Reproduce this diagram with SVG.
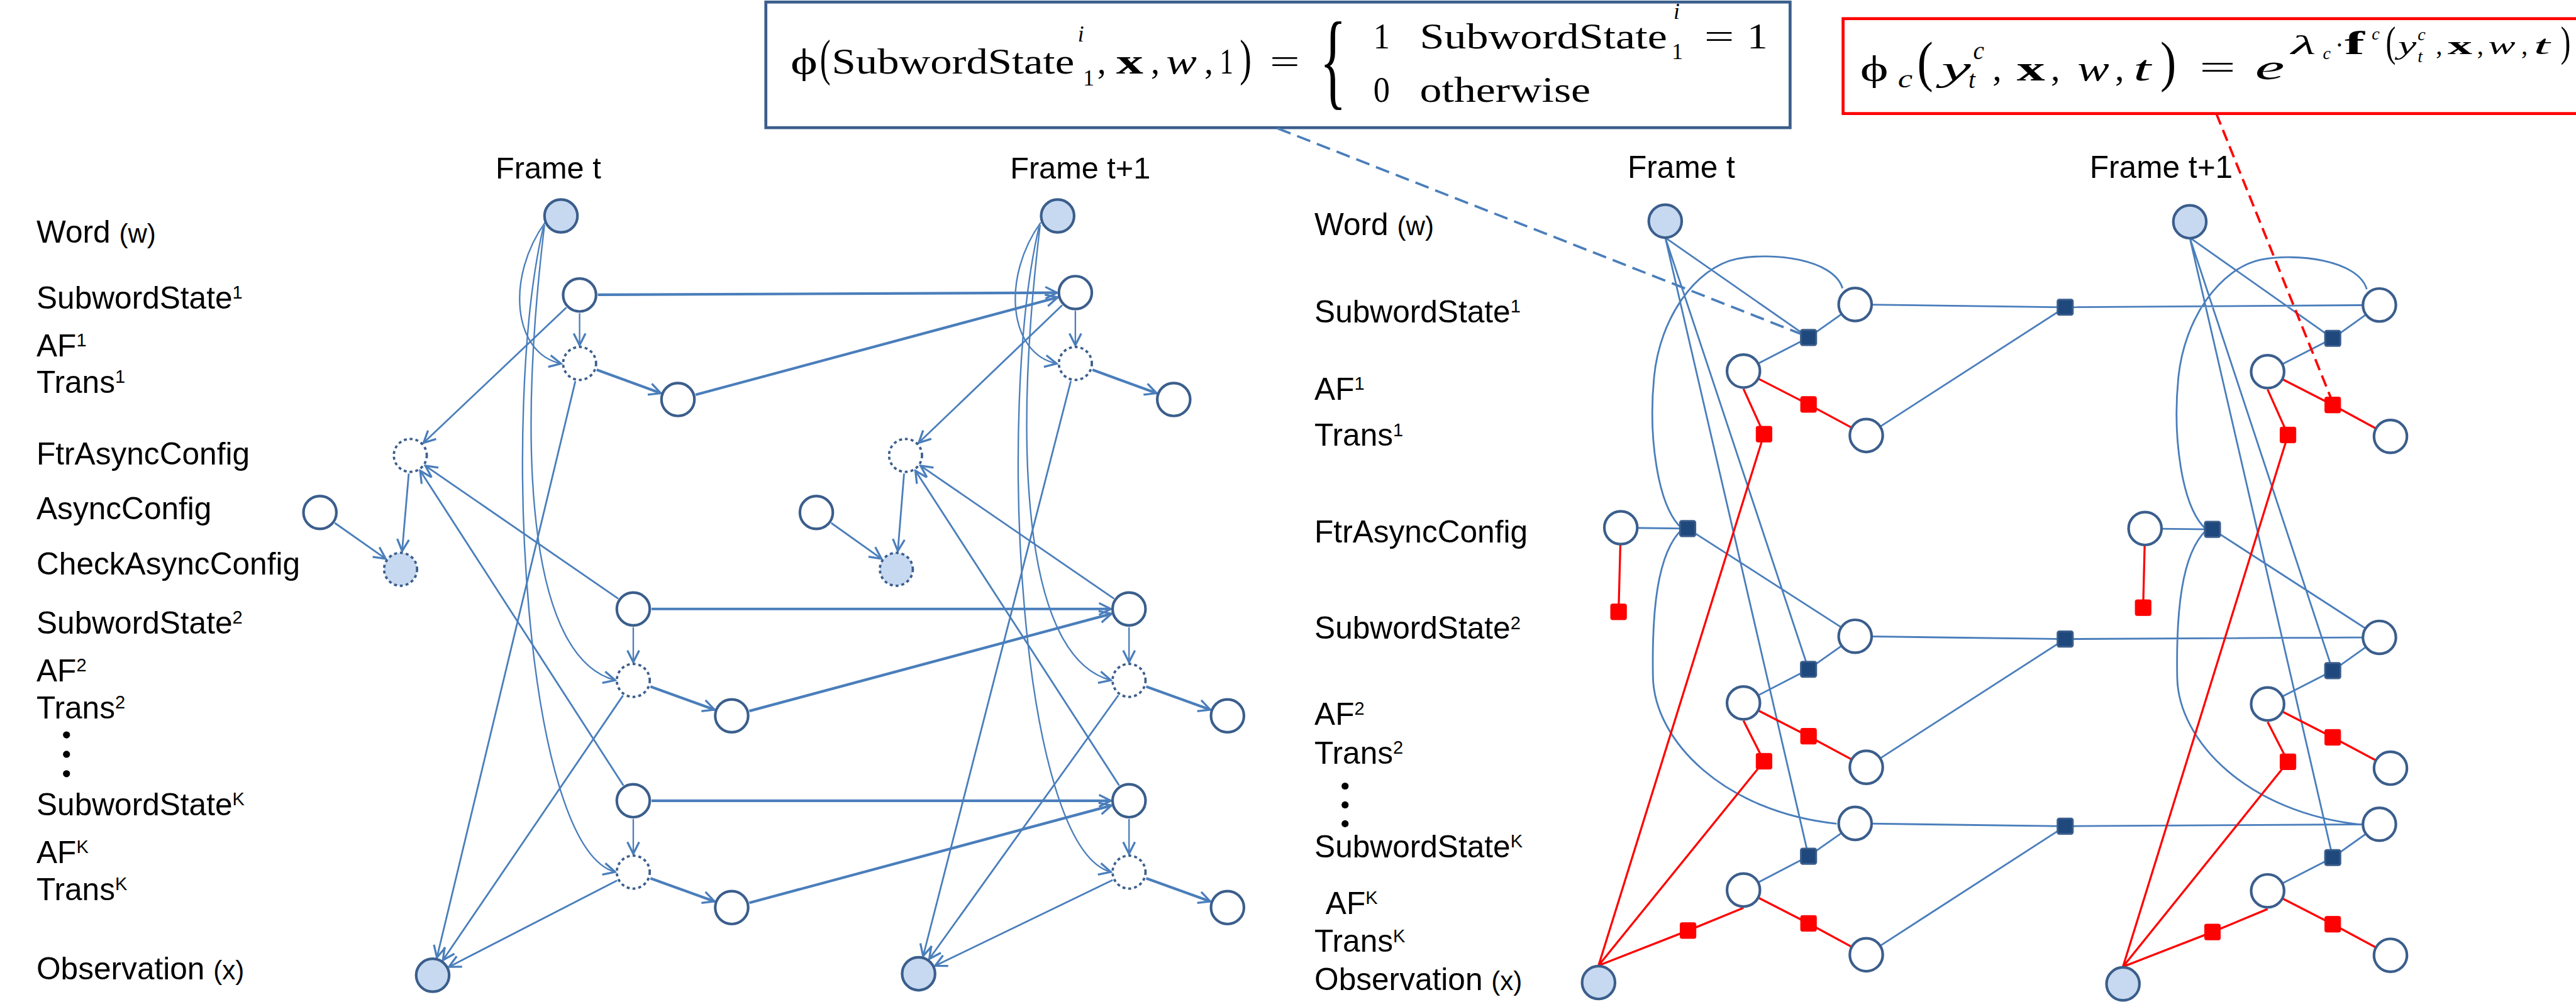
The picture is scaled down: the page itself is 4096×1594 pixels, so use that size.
<svg xmlns="http://www.w3.org/2000/svg" width="4096" height="1594" viewBox="0 0 4096 1594">
<defs>
<style>
.lbl{font-family:"Liberation Sans",Arial,sans-serif;font-size:53px;fill:#000}
.sup{font-size:31px}
.sm{font-size:45px}
.frm{font-family:"Liberation Sans",Arial,sans-serif;font-size:52px;fill:#000}
.m{font-family:"Liberation Serif","DejaVu Serif",serif;fill:#000}
.it{font-style:italic}
.bf{font-weight:bold}
.n{fill:#fff;stroke:#3B5E8C;stroke-width:4.5}
.o{fill:#C6D9F1;stroke:#3B5E8C;stroke-width:4.5}
.d{fill:#fff;stroke:#3B5E8C;stroke-width:4;stroke-dasharray:5 5}
.do{fill:#C6D9F1;stroke:#3B5E8C;stroke-width:4;stroke-dasharray:5 5}
.a{fill:none;stroke:#4A7EBB;stroke-width:3;marker-end:url(#ah)}
.a.t{stroke-width:2.5}
.a.k{stroke-width:4.5}
.u{fill:none;stroke:#4A7EBB;stroke-width:3}
.r{fill:none;stroke:#FF0000;stroke-width:3.5}
.fb{fill:#1F497D;stroke:#3B5E8C;stroke-width:3}
.fr{fill:#FF0000;stroke:#FF0000;stroke-width:1}
.dot{fill:#000}
</style>
<marker id="ah" viewBox="0 0 26 26" refX="23" refY="13" markerWidth="26" markerHeight="26" markerUnits="userSpaceOnUse" orient="auto">
<path d="M3,3 L23,13 L3,23" fill="none" stroke="#4A7EBB" stroke-width="3.5"/>
</marker>
</defs>
<rect width="4096" height="1594" fill="#fff"/>
<g transform="scale(0.936)">

<!-- potential function boxes -->
<g id="eq-subword">
<rect x="1301" y="3.5" width="1740" height="213.5" fill="#fff" stroke="#3B5E8C" stroke-width="5"/>
<text class="m" x="1343" y="125" font-size="60" textLength="46" lengthAdjust="spacingAndGlyphs">ϕ</text>
<text class="m" x="1393" y="127" font-size="85" textLength="18" lengthAdjust="spacingAndGlyphs">(</text>
<text class="m" x="1413" y="125" font-size="60" textLength="412" lengthAdjust="spacingAndGlyphs">SubwordState</text>
<text class="m it" x="1831" y="70" font-size="38">i</text>
<text class="m" x="1840" y="145" font-size="38">1</text>
<text class="m" x="1864" y="125" font-size="60">,</text>
<text class="m bf" x="1896" y="125" font-size="60" textLength="46" lengthAdjust="spacingAndGlyphs">x</text>
<text class="m" x="1955" y="125" font-size="60">,</text>
<text class="m it" x="1981" y="125" font-size="60" textLength="52" lengthAdjust="spacingAndGlyphs">w</text>
<text class="m" x="2046" y="125" font-size="60">,</text>
<text class="m" x="2072" y="125" font-size="60" textLength="23" lengthAdjust="spacingAndGlyphs">1</text>
<text class="m" x="2106" y="127" font-size="85" textLength="20" lengthAdjust="spacingAndGlyphs">)</text>
<text class="m" x="2157" y="125" font-size="60" textLength="51" lengthAdjust="spacingAndGlyphs">=</text>
<text class="m" transform="translate(2242,162) scale(0.52,1)" font-size="181">{</text>
<text class="m" x="2333" y="82" font-size="60" textLength="28" lengthAdjust="spacingAndGlyphs">1</text>
<text class="m" x="2412" y="82" font-size="60" textLength="420" lengthAdjust="spacingAndGlyphs">SubwordState</text>
<text class="m it" x="2843" y="32" font-size="38">i</text>
<text class="m" x="2840" y="100" font-size="38">1</text>
<text class="m" x="2895" y="82" font-size="60" textLength="51" lengthAdjust="spacingAndGlyphs">=</text>
<text class="m" x="2968" y="82" font-size="60" textLength="35" lengthAdjust="spacingAndGlyphs">1</text>
<text class="m" x="2333" y="173" font-size="60" textLength="28" lengthAdjust="spacingAndGlyphs">0</text>
<text class="m" x="2412" y="173" font-size="60" textLength="290" lengthAdjust="spacingAndGlyphs">otherwise</text>
</g>

<g id="eq-factor">
<rect x="3131" y="31.7" width="1300" height="161.3" fill="#fff" stroke="#FF0000" stroke-width="5"/>
<text class="m" x="3160" y="137" font-size="62" textLength="48" lengthAdjust="spacingAndGlyphs">ϕ</text>
<text class="m it" x="3224" y="148" font-size="42" textLength="25" lengthAdjust="spacingAndGlyphs">c</text>
<text class="m" x="3257" y="137" font-size="95" textLength="27" lengthAdjust="spacingAndGlyphs">(</text>
<text class="m it" x="3298" y="137" font-size="62" textLength="50" lengthAdjust="spacingAndGlyphs">y</text>
<text class="m it" x="3352" y="100" font-size="42">c</text>
<text class="m it" x="3344" y="150" font-size="42">t</text>
<text class="m" x="3385" y="137" font-size="62">,</text>
<text class="m bf" x="3426" y="137" font-size="62" textLength="48" lengthAdjust="spacingAndGlyphs">x</text>
<text class="m" x="3484" y="137" font-size="62">,</text>
<text class="m it" x="3529" y="137" font-size="62" textLength="54" lengthAdjust="spacingAndGlyphs">w</text>
<text class="m" x="3593" y="137" font-size="62">,</text>
<text class="m it" x="3624" y="137" font-size="62" textLength="30" lengthAdjust="spacingAndGlyphs">t</text>
<text class="m" x="3670" y="137" font-size="95" textLength="27" lengthAdjust="spacingAndGlyphs">)</text>
<text class="m" x="3736" y="135" font-size="62" textLength="62" lengthAdjust="spacingAndGlyphs">=</text>
<text class="m it" x="3831" y="135" font-size="60" textLength="50" lengthAdjust="spacingAndGlyphs">e</text>
<text class="m it" x="3892" y="92" font-size="44" textLength="42" lengthAdjust="spacingAndGlyphs">λ</text>
<text class="m it" x="3946" y="100" font-size="30">c</text>
<text class="m" x="3967" y="92" font-size="44">·</text>
<text class="m bf" x="3983" y="92" font-size="56" textLength="34" lengthAdjust="spacingAndGlyphs">f</text>
<text class="m it" x="4029" y="67" font-size="30">c</text>
<text class="m" x="4053" y="95" font-size="72" textLength="17" lengthAdjust="spacingAndGlyphs">(</text>
<text class="m it" x="4074" y="92" font-size="44" textLength="31" lengthAdjust="spacingAndGlyphs">y</text>
<text class="m it" x="4107" y="68" font-size="30">c</text>
<text class="m it" x="4107" y="106" font-size="30">t</text>
<text class="m" x="4138" y="92" font-size="44">,</text>
<text class="m bf" x="4158" y="92" font-size="44" textLength="42" lengthAdjust="spacingAndGlyphs">x</text>
<text class="m" x="4208" y="92" font-size="44">,</text>
<text class="m it" x="4227" y="92" font-size="44" textLength="46" lengthAdjust="spacingAndGlyphs">w</text>
<text class="m" x="4283" y="92" font-size="44">,</text>
<text class="m it" x="4304" y="92" font-size="44" textLength="28" lengthAdjust="spacingAndGlyphs">t</text>
<text class="m" x="4350" y="95" font-size="72" textLength="17" lengthAdjust="spacingAndGlyphs">)</text>
</g>

<!-- row labels, directed model -->
<g id="labels-left">
<text class="frm" x="842" y="303">Frame t</text>
<text class="frm" x="1716" y="303">Frame t+1</text>
<text class="lbl" x="62" y="412">Word <tspan class="sm">(w)</tspan></text>
<text class="lbl" x="62" y="525">SubwordState<tspan class="sup" dy="-17">1</tspan></text>
<text class="lbl" x="62" y="606">AF<tspan class="sup" dy="-17">1</tspan></text>
<text class="lbl" x="62" y="668">Trans<tspan class="sup" dy="-17">1</tspan></text>
<text class="lbl" x="62" y="789">FtrAsyncConfig</text>
<text class="lbl" x="62" y="883">AsyncConfig</text>
<text class="lbl" x="62" y="976">CheckAsyncConfig</text>
<text class="lbl" x="62" y="1077">SubwordState<tspan class="sup" dy="-17">2</tspan></text>
<text class="lbl" x="62" y="1158">AF<tspan class="sup" dy="-17">2</tspan></text>
<text class="lbl" x="62" y="1221">Trans<tspan class="sup" dy="-17">2</tspan></text>
<circle class="dot" cx="113" cy="1249" r="6"/>
<circle class="dot" cx="113" cy="1282" r="6"/>
<circle class="dot" cx="113" cy="1315" r="6"/>
<text class="lbl" x="62" y="1386">SubwordState<tspan class="sup" dy="-17">K</tspan></text>
<text class="lbl" x="62" y="1467">AF<tspan class="sup" dy="-17">K</tspan></text>
<text class="lbl" x="62" y="1530">Trans<tspan class="sup" dy="-17">K</tspan></text>
<text class="lbl" x="62" y="1664">Observation <tspan class="sm">(x)</tspan></text>
</g>

<!-- row labels, factor graph -->
<g id="labels-right">
<text class="lbl" x="2765" y="302" font-size="51">Frame t</text>
<text class="lbl" x="3550" y="302" font-size="51">Frame t+1</text>
<text class="lbl" x="2233" y="400">Word <tspan class="sm">(w)</tspan></text>
<text class="lbl" x="2233" y="548">SubwordState<tspan class="sup" dy="-17">1</tspan></text>
<text class="lbl" x="2233" y="679">AF<tspan class="sup" dy="-17">1</tspan></text>
<text class="lbl" x="2233" y="758">Trans<tspan class="sup" dy="-17">1</tspan></text>
<text class="lbl" x="2233" y="922">FtrAsyncConfig</text>
<text class="lbl" x="2233" y="1086">SubwordState<tspan class="sup" dy="-17">2</tspan></text>
<text class="lbl" x="2233" y="1232">AF<tspan class="sup" dy="-17">2</tspan></text>
<text class="lbl" x="2233" y="1298">Trans<tspan class="sup" dy="-17">2</tspan></text>
<circle class="dot" cx="2285" cy="1336" r="6"/>
<circle class="dot" cx="2285" cy="1368" r="6"/>
<circle class="dot" cx="2285" cy="1400" r="6"/>
<text class="lbl" x="2233" y="1457">SubwordState<tspan class="sup" dy="-17">K</tspan></text>
<text class="lbl" x="2252" y="1553">AF<tspan class="sup" dy="-17">K</tspan></text>
<text class="lbl" x="2233" y="1618">Trans<tspan class="sup" dy="-17">K</tspan></text>
<text class="lbl" x="2233" y="1683">Observation <tspan class="sm">(x)</tspan></text>
</g>

<!-- connectors -->
<g id="connectors">
<!-- directed model, frame t -->
<path class="a t" d="M926,378 C860,470 870,600 953,618"/>
<path class="a t" d="M925,382 C875,800 905,1120 1045,1156"/>
<path class="a t" d="M923,386 C850,700 890,1440 1045,1482"/>
<path class="a k" d="M1015.6,501 L1795.8,497.5"/>
<path class="a k" d="M1181.6,670.9 L1796.9,505.4"/>
<path class="a t" d="M984.6,532.4 L984.6,586.7"/>
<path class="a k" d="M1013.7,628.4 L1122.6,668.3"/>
<path class="a" d="M962.1,522.7 L719.5,752.7" stroke-width="3.5"/>
<path class="a" d="M1050.3,1017.4 L722.5,791.6" stroke-width="3.5"/>
<path class="a" d="M1059,1334.9 L713.8,800"/>
<path class="a" d="M694.4,804.9 L683.1,936.6"/>
<path class="a" d="M568.8,888.9 L655.2,949.7" stroke-width="3.5"/>
<path class="a" d="M977.4,647.8 L742.2,1627.4"/>
<path class="a" d="M1058.4,1182 L752.4,1631.9"/>
<path class="a" d="M1048.2,1496.4 L762.6,1643.3"/>
<path class="a k" d="M1106.8,1035 L1887,1035"/>
<path class="a k" d="M1272.9,1208.5 L1888.1,1043.1"/>
<path class="a t" d="M1075.8,1066 L1075.8,1125.4"/>
<path class="a k" d="M1105,1166.9 L1213.8,1206.1"/>
<path class="a k" d="M1106.8,1360.9 L1887,1360.9"/>
<path class="a k" d="M1272.9,1534.4 L1888.1,1369"/>
<path class="a t" d="M1075.8,1391.9 L1075.8,1451.2"/>
<path class="a k" d="M1105,1492.7 L1213.8,1532"/>
<!-- directed model, frame t+1 -->
<path class="a t" d="M1768,378 C1702,470 1712,600 1795,618"/>
<path class="a t" d="M1767,382 C1717,800 1747,1120 1887,1156"/>
<path class="a t" d="M1765,386 C1692,700 1732,1440 1887,1482"/>
<path class="a t" d="M1826.8,528.3 L1826.8,586.7"/>
<path class="a k" d="M1855.9,628.4 L1964.8,668.3"/>
<path class="a" d="M1804.4,518.8 L1560.7,752.5" stroke-width="3.5"/>
<path class="a" d="M1892.5,1017.4 L1563.8,791.6" stroke-width="3.5"/>
<path class="a" d="M1901.2,1334.9 L1555.1,800"/>
<path class="a" d="M1535.8,804.9 L1525.2,936.6"/>
<path class="a" d="M1412.1,888.9 L1497.4,949.6" stroke-width="3.5"/>
<path class="a" d="M1819.1,647.7 L1568.2,1625"/>
<path class="a" d="M1899.9,1181.6 L1578.6,1629.8"/>
<path class="a" d="M1890.1,1495.7 L1588.4,1641.5"/>
<path class="a t" d="M1918,1066 L1918,1125.4"/>
<path class="a k" d="M1947.2,1166.9 L2056,1206.1"/>
<path class="a t" d="M1918,1391.9 L1918,1451.2"/>
<path class="a k" d="M1947.2,1492.7 L2056,1532"/>

<!-- factor graph, blue edges -->
<path class="u" d="M2829,404 L3072.3,573.6 M2829,404 L3072.3,1137.5 M2829,404 L3072.3,1455.2
M3072.3,573.6 L3151.5,517.5 M3072.3,573.6 L2961.8,630.7
M3072.3,1137.5 L3151.5,1081.4 M3072.3,1137.5 L2961.8,1194.7
M3072.3,1455.2 L3151.5,1399.5 M3072.3,1455.2 L2961.8,1512.7
M3151.5,517.5 L3508.3,522.2 L4042.1,518.4 M3508.3,522.2 L3170.4,740.2
M3151.5,1081.4 L3508.3,1086.1 L4042.1,1083.3 M3508.3,1086.1 L3170.4,1304.1
M3151.5,1399.5 L3508.3,1404.2 L4042.1,1400.9 M3508.3,1404.2 L3170.4,1622.7
M2753.4,896.9 L2867,898.3 M2867,898.3 L3151.5,1081.4
M3130,490 C3115,440 3010,428 2950,440 C2880,455 2820,540 2810,640 C2800,740 2815,860 2857,898
M2857,900 C2815,940 2806,1040 2808,1150 C2810,1260 2930,1380 3120,1400
M3720,404 L3962.8,575.1 M3720,404 L3962.8,1139.9 M3720,404 L3962.8,1457.5
M3962.8,575.1 L4042.1,518.4 M3962.8,575.1 L3852.2,631.7
M3962.8,1139.9 L4042.1,1083.3 M3962.8,1139.9 L3852.2,1196.5
M3962.8,1457.5 L4042.1,1400.9 M3962.8,1457.5 L3852.2,1514.1
M3644,898.3 L3758.5,899.7 M3758.5,899.7 L4042.1,1083.3
M4020.6,491.5 C4005.6,441.5 3900.6,429.5 3840.6,441.5 C3770.6,456.5 3710.6,541.5 3700.6,641.5 C3690.6,741.5 3705.6,861.5 3747.6,899.5
M3747.6,901.5 C3705.6,941.5 3696.6,1041.5 3698.6,1151.5 C3700.6,1261.5 3820.6,1381.5 4010.6,1401.5"/>
<!-- factor graph, red edges -->
<path class="r" d="M2961.8,630.7 L3072.3,687.4 L3170.4,740.2
M2961.8,661 L2996.7,737.9 L2715.6,1641
M2961.8,1194.7 L3072.3,1251.3 L3170.4,1304.1
M2961.8,1225 L2996.7,1293.8 L2715.6,1641
M2961.8,1512.7 L3072.3,1569.4 L3170.4,1622.7
M2961.8,1543 L2867.6,1581.6 L2715.6,1641
M2753.4,897 L2749.6,1039.9
M3852.2,631.7 L3962.8,688.3 L4060.9,741.7
M3852.2,662 L3886.8,739.3 L3606.5,1643
M3852.2,1196.5 L3962.8,1253.2 L4060.9,1305.6
M3852.2,1227 L3886.8,1294.7 L3606.5,1643
M3852.2,1514.1 L3962.8,1570.8 L4060.9,1623.6
M3852.2,1545 L3758.5,1584 L3606.5,1643
M3644,898 L3640.7,1032.8"/>
<!-- callouts from the equation boxes -->
<path d="M2170,218 L3058,567" fill="none" stroke="#4A7EBB" stroke-width="4" stroke-dasharray="24 12"/>
<path d="M3765,193 L3962,682" fill="none" stroke="#FF0000" stroke-width="4" stroke-dasharray="20 10"/>
</g>

<!-- directed model nodes, frame t -->
<g id="l-word-t"><circle class="o" cx="953" cy="367" r="28"/></g>
<g id="l-sub1-t"><circle class="n" cx="984.6" cy="501.4" r="28"/></g>
<g id="l-af1-t"><circle class="d" cx="984.6" cy="617.7" r="28"/></g>
<g id="l-trans1-t"><circle class="n" cx="1151.7" cy="679" r="28"/></g>
<g id="l-ftr-t"><circle class="d" cx="697" cy="774" r="28"/></g>
<g id="l-async-t"><circle class="n" cx="543.5" cy="871" r="28"/></g>
<g id="l-check-t"><circle class="do" cx="680.5" cy="967.5" r="28"/></g>
<g id="l-sub2-t"><circle class="n" cx="1075.8" cy="1035" r="28"/></g>
<g id="l-af2-t"><circle class="d" cx="1075.8" cy="1156.4" r="28"/></g>
<g id="l-trans2-t"><circle class="n" cx="1243" cy="1216.6" r="28"/></g>
<g id="l-subk-t"><circle class="n" cx="1075.8" cy="1360.9" r="28"/></g>
<g id="l-afk-t"><circle class="d" cx="1075.8" cy="1482.2" r="28"/></g>
<g id="l-transk-t"><circle class="n" cx="1243" cy="1542.5" r="28"/></g>
<g id="l-obs-t"><circle class="o" cx="735" cy="1657.5" r="28"/></g>
<!-- directed model nodes, frame t+1 -->
<g id="l-word-t1"><circle class="o" cx="1796.7" cy="367" r="28"/></g>
<g id="l-sub1-t1"><circle class="n" cx="1826.8" cy="497.3" r="28"/></g>
<g id="l-af1-t1"><circle class="d" cx="1826.8" cy="617.7" r="28"/></g>
<g id="l-trans1-t1"><circle class="n" cx="1993.9" cy="679" r="28"/></g>
<g id="l-ftr-t1"><circle class="d" cx="1538.3" cy="774" r="28"/></g>
<g id="l-async-t1"><circle class="n" cx="1386.8" cy="871" r="28"/></g>
<g id="l-check-t1"><circle class="do" cx="1522.7" cy="967.5" r="28"/></g>
<g id="l-sub2-t1"><circle class="n" cx="1918" cy="1035" r="28"/></g>
<g id="l-af2-t1"><circle class="d" cx="1918" cy="1156.4" r="28"/></g>
<g id="l-trans2-t1"><circle class="n" cx="2085.2" cy="1216.6" r="28"/></g>
<g id="l-subk-t1"><circle class="n" cx="1918" cy="1360.9" r="28"/></g>
<g id="l-afk-t1"><circle class="d" cx="1918" cy="1482.2" r="28"/></g>
<g id="l-transk-t1"><circle class="n" cx="2085.2" cy="1542.5" r="28"/></g>
<g id="l-obs-t1"><circle class="o" cx="1560.5" cy="1655" r="28"/></g>

<!-- factor graph variable nodes, frame t -->
<g id="f-word-t"><circle class="o" cx="2828.9" cy="375.9" r="28"/></g>
<g id="f-sub1-t"><circle class="n" cx="3151.5" cy="517.5" r="28"/></g>
<g id="f-af1-t"><circle class="n" cx="2961.8" cy="630.7" r="28"/></g>
<g id="f-trans1-t"><circle class="n" cx="3170.4" cy="740.2" r="28"/></g>
<g id="f-ftr-t"><circle class="n" cx="2753.4" cy="896.9" r="28"/></g>
<g id="f-sub2-t"><circle class="n" cx="3151.5" cy="1081.4" r="28"/></g>
<g id="f-af2-t"><circle class="n" cx="2961.8" cy="1194.7" r="28"/></g>
<g id="f-trans2-t"><circle class="n" cx="3170.4" cy="1304.1" r="28"/></g>
<g id="f-subk-t"><circle class="n" cx="3151.5" cy="1399.5" r="28"/></g>
<g id="f-afk-t"><circle class="n" cx="2961.8" cy="1512.7" r="28"/></g>
<g id="f-transk-t"><circle class="n" cx="3170.4" cy="1622.7" r="28"/></g>
<g id="f-obs-t"><circle class="o" cx="2715.6" cy="1669.9" r="28"/></g>
<!-- factor graph variable nodes, frame t+1 -->
<g id="f-word-t1"><circle class="o" cx="3720" cy="376.9" r="28"/></g>
<g id="f-sub1-t1"><circle class="n" cx="4042.1" cy="518.4" r="28"/></g>
<g id="f-af1-t1"><circle class="n" cx="3852.2" cy="631.7" r="28"/></g>
<g id="f-trans1-t1"><circle class="n" cx="4060.9" cy="741.7" r="28"/></g>
<g id="f-ftr-t1"><circle class="n" cx="3644" cy="898.3" r="28"/></g>
<g id="f-sub2-t1"><circle class="n" cx="4042.1" cy="1083.3" r="28"/></g>
<g id="f-af2-t1"><circle class="n" cx="3852.2" cy="1196.5" r="28"/></g>
<g id="f-trans2-t1"><circle class="n" cx="4060.9" cy="1305.6" r="28"/></g>
<g id="f-subk-t1"><circle class="n" cx="4042.1" cy="1400.9" r="28"/></g>
<g id="f-afk-t1"><circle class="n" cx="3852.2" cy="1514.1" r="28"/></g>
<g id="f-transk-t1"><circle class="n" cx="4060.9" cy="1623.6" r="28"/></g>
<g id="f-obs-t1"><circle class="o" cx="3606.5" cy="1672.2" r="28"/></g>

<!-- factor nodes -->
<g id="fac-blue">
<rect class="fb" x="3059.3" y="560.6" width="26" height="26" rx="3"/>
<rect class="fb" x="3059.3" y="1124.5" width="26" height="26" rx="3"/>
<rect class="fb" x="3059.3" y="1442.2" width="26" height="26" rx="3"/>
<rect class="fb" x="2854" y="885.3" width="26" height="26" rx="3"/>
<rect class="fb" x="3495.3" y="509.2" width="26" height="26" rx="3"/>
<rect class="fb" x="3495.3" y="1073.1" width="26" height="26" rx="3"/>
<rect class="fb" x="3495.3" y="1391.2" width="26" height="26" rx="3"/>
<rect class="fb" x="3949.8" y="562.1" width="26" height="26" rx="3"/>
<rect class="fb" x="3949.8" y="1126.9" width="26" height="26" rx="3"/>
<rect class="fb" x="3949.8" y="1444.5" width="26" height="26" rx="3"/>
<rect class="fb" x="3745.5" y="886.7" width="26" height="26" rx="3"/>
</g>
<g id="fac-red">
<rect class="fr" x="3058.8" y="673.9" width="27" height="27" rx="3"/>
<rect class="fr" x="2983.2" y="724.4" width="27" height="27" rx="3"/>
<rect class="fr" x="3058.8" y="1237.8" width="27" height="27" rx="3"/>
<rect class="fr" x="2983.2" y="1280.3" width="27" height="27" rx="3"/>
<rect class="fr" x="3058.8" y="1555.9" width="27" height="27" rx="3"/>
<rect class="fr" x="2854.1" y="1568.1" width="27" height="27" rx="3"/>
<rect class="fr" x="2736.1" y="1026.4" width="27" height="27" rx="3"/>
<rect class="fr" x="3949.3" y="674.8" width="27" height="27" rx="3"/>
<rect class="fr" x="3873.3" y="725.8" width="27" height="27" rx="3"/>
<rect class="fr" x="3949.3" y="1239.7" width="27" height="27" rx="3"/>
<rect class="fr" x="3873.3" y="1281.2" width="27" height="27" rx="3"/>
<rect class="fr" x="3949.3" y="1557.3" width="27" height="27" rx="3"/>
<rect class="fr" x="3745" y="1570.5" width="27" height="27" rx="3"/>
<rect class="fr" x="3627.2" y="1019.3" width="27" height="27" rx="3"/>
</g>
</g>
</svg>
